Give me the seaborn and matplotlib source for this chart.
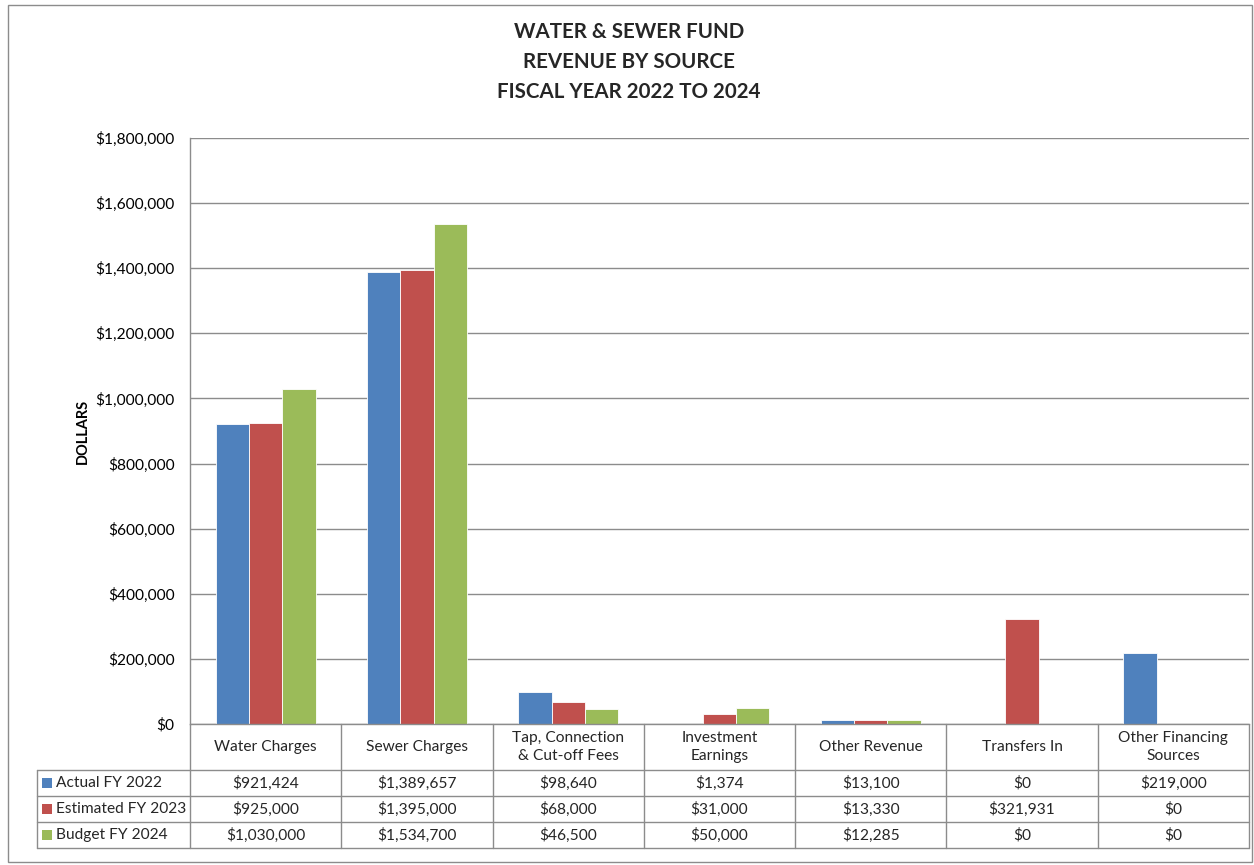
import matplotlib
matplotlib.use("Agg")
import matplotlib.pyplot as plt
import matplotlib.transforms as mtransforms
from matplotlib.patches import Rectangle
from matplotlib.ticker import FuncFormatter, MultipleLocator
import seaborn as sns
import pandas as pd

categories = ["Water Charges", "Sewer Charges", "Tap, Connection\n& Cut-off Fees",
              "Investment\nEarnings", "Other Revenue", "Transfers In",
              "Other Financing\nSources"]
series = ["Actual FY 2022", "Estimated FY 2023", "Budget FY 2024"]
actual_2022 = [921424, 1389657, 98640, 1374, 13100, 0, 219000]
estimated_2023 = [925000, 1395000, 68000, 31000, 13330, 321931, 0]
budget_2024 = [1030000, 1534700, 46500, 50000, 12285, 0, 0]
colors = ["#4F81BD", "#C0504D", "#9BBB59"]
title_lines = "WATER & SEWER FUND\nREVENUE BY SOURCE\nFISCAL YEAR 2022 TO 2024"

values = [actual_2022, estimated_2023, budget_2024]
rows = []
for s, vals in zip(series, values):
    for c, v in zip(categories, vals):
        rows.append({"category": c, "series": s, "value": v})
df = pd.DataFrame(rows)

sns.set_theme(style="white")
plt.rcParams["font.family"] = ["Lato", "DejaVu Sans"]

W, H = 1254, 865
fig = plt.figure(figsize=(W / 100, H / 100), dpi=100)
ax = fig.add_axes([190 / W, 1 - 724 / H, (1249 - 190) / W, (724 - 138) / H])

sns.barplot(data=df, x="category", y="value", hue="series", order=categories,
            hue_order=series, palette=colors, width=0.66, gap=0,
            edgecolor="white", linewidth=0.6, legend=False, ax=ax,
            saturation=1, errorbar=None)

ax.set_xlim(-0.5, len(categories) - 0.5)
ax.set_ylim(0, 1800000)
ax.yaxis.set_major_locator(MultipleLocator(200000))
ax.yaxis.set_major_formatter(FuncFormatter(lambda v, p: f"${v:,.0f}"))
ax.grid(axis="y", color="#8c8c8c", linewidth=1.0)
ax.set_axisbelow(True)
ax.set_xticks([])
ax.set_xlabel("")
ax.set_ylabel("DOLLARS", fontsize=10.5, fontweight="bold", color="black", labelpad=4)
ax.tick_params(axis="y", labelsize=11.2, colors="black", length=0, pad=11)
for lab in ax.get_yticklabels():
    lab.set_color("black")
for side in ["top", "right"]:
    ax.spines[side].set_visible(False)
ax.spines["left"].set_color("#8c8c8c")
ax.spines["bottom"].set_color("#8c8c8c")
ax.spines["left"].set_linewidth(1.0)
ax.spines["bottom"].set_linewidth(1.0)

fig.text(629 / W, 1 - 62 / H, title_lines, ha="center", va="center",
         fontsize=14.8, fontweight="bold", linespacing=1.6)

# Data table below the plot
tr = mtransforms.blended_transform_factory(ax.transData, fig.transFigure)
ftr = fig.transFigure
lc = "#8c8c8c"
y_top = 1 - 724 / H
y_hdr = 1 - 770 / H
row_y = [1 - 770 / H, 1 - 796 / H, 1 - 822 / H, 1 - 848 / H]
n = len(categories)
x_left_legend = 37 / W

# vertical lines for categories
for i in range(n + 1):
    fig.add_artist(plt.Line2D([i - 0.5, i - 0.5], [row_y[-1], y_top], transform=tr,
                              color=lc, linewidth=1.0))
# horizontal lines
for yy in row_y:
    fig.add_artist(plt.Line2D([x_left_legend, 1249 / W], [yy, yy], transform=ftr,
                              color=lc, linewidth=1.0))
fig.add_artist(plt.Line2D([x_left_legend, x_left_legend], [row_y[-1], row_y[0]],
                          transform=ftr, color=lc, linewidth=1.0))

# header labels
for i, c in enumerate(categories):
    fig.text(i, (y_top + y_hdr) / 2, c, transform=tr, ha="center", va="center",
             fontsize=11.2, linespacing=1.35)

# rows
for r, (s, vals, col) in enumerate(zip(series, values, colors)):
    yc = (row_y[r] + row_y[r + 1]) / 2
    fig.add_artist(Rectangle((42 / W, yc - 5 / H), 10 / W, 10 / H, transform=ftr,
                             facecolor=col, edgecolor="none"))
    fig.text(56 / W, yc, s, transform=ftr, ha="left", va="center", fontsize=11.2)
    for i, v in enumerate(vals):
        fig.text(i, yc, f"${v:,.0f}", transform=tr, ha="center", va="center",
                 fontsize=11.2)

# outer chart border
fig.add_artist(Rectangle((8 / W, 1 - 862 / H), (1252 - 8) / W, (862 - 5) / H,
                         transform=ftr, facecolor="none", edgecolor="#8c8c8c",
                         linewidth=1.0))

fig.savefig("out.png", dpi=100)
